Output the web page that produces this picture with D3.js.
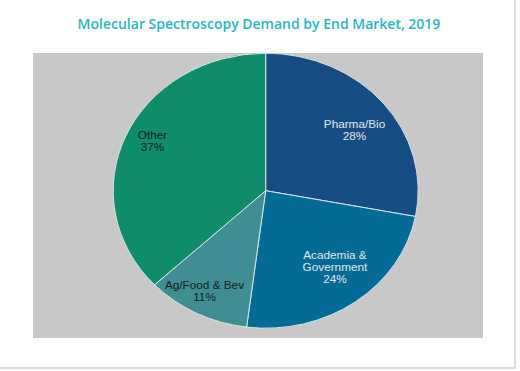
<!DOCTYPE html>
<html><head><meta charset="utf-8">
<script src="https://cdn.jsdelivr.net/npm/d3@7/dist/d3.min.js"></script>
<style>body{margin:0;background:#fff;}svg{display:block;}</style>
</head><body>
<svg id="c" width="520" height="371"></svg>
<script>
const title = "Molecular Spectroscopy Demand by End Market, 2019";
const categories = ["Pharma/Bio", "Academia & Government", "Ag/Food & Bev", "Other"];
const labelLines = [["Pharma/Bio"], ["Academia &", "Government"], ["Ag/Food & Bev"], ["Other"]];
const values = [28, 24, 11, 37];
const colors = ["#154c84", "#046b97", "#3e8e94", "#0f8c6a"];
const textColors = ["#e6e6e6", "#e6e6e6", "#1a1a1a", "#1a1a1a"];

const svg = d3.select("#c");
// frame lines
svg.append("line").attr("x1",515).attr("x2",515).attr("y1",0).attr("y2",369).attr("stroke","#dcdcdc").attr("stroke-width",2);
svg.append("line").attr("x1",0).attr("x2",516).attr("y1",368).attr("y2",368).attr("stroke","#dcdcdc").attr("stroke-width",2);

svg.append("text").attr("x",259).attr("y",29).attr("text-anchor","middle")
  .attr("font-family","'Open Sans', sans-serif").attr("font-weight",600).attr("font-size",14)
  .attr("fill","#1fb7c6").text(title);

svg.append("rect").attr("x",33).attr("y",53).attr("width",450).attr("height",285).attr("fill","#c8c8c8");

const cx = 265.7, cy = 190.7, ry = 137.5, rx = 152.5;
const sx = rx / ry;
const pie = d3.pie().sort(null).value(d => d);
const arcs = pie(values);
const arc = d3.arc().innerRadius(0).outerRadius(ry);
const g = svg.append("g").attr("transform", `translate(${cx},${cy}) scale(${sx},1)`);
g.selectAll("path").data(arcs).enter().append("path")
  .attr("d", arc).attr("fill", (d,i) => colors[i])
  .attr("stroke", "#d8e4e6").attr("stroke-width", 1).attr("vector-effect","non-scaling-stroke");

// label placement: radius fraction and small angle nudge (degrees) from slice mid-angle
const labelR = [0.731, 0.717, 0.833, 0.825];
const labelNudge = [2.4, -3.3, 1.8, 2.5];
const gl = svg.append("g").attr("transform", `translate(${cx},${cy})`);
arcs.forEach((d,i) => {
  const a = (d.startAngle + d.endAngle) / 2 + labelNudge[i] * Math.PI / 180;
  const r = ry * labelR[i];
  const x = r * Math.sin(a) * sx, y = -r * Math.cos(a);
  const lines = labelLines[i].concat([values[i] + "%"]);
  const t = gl.append("text").attr("text-anchor","middle")
    .attr("transform", `translate(${x},0) scale(1.07,1)`)
    .attr("font-family","'Liberation Sans', Arial, sans-serif").attr("font-size",11)
    .attr("fill", textColors[i]);
  const y0 = y - (lines.length-1)*12/2 + 4;
  lines.forEach((s,k) => t.append("tspan").attr("x", 0).attr("y", y0 + k*12).text(s));
});
</script>
</body></html>
